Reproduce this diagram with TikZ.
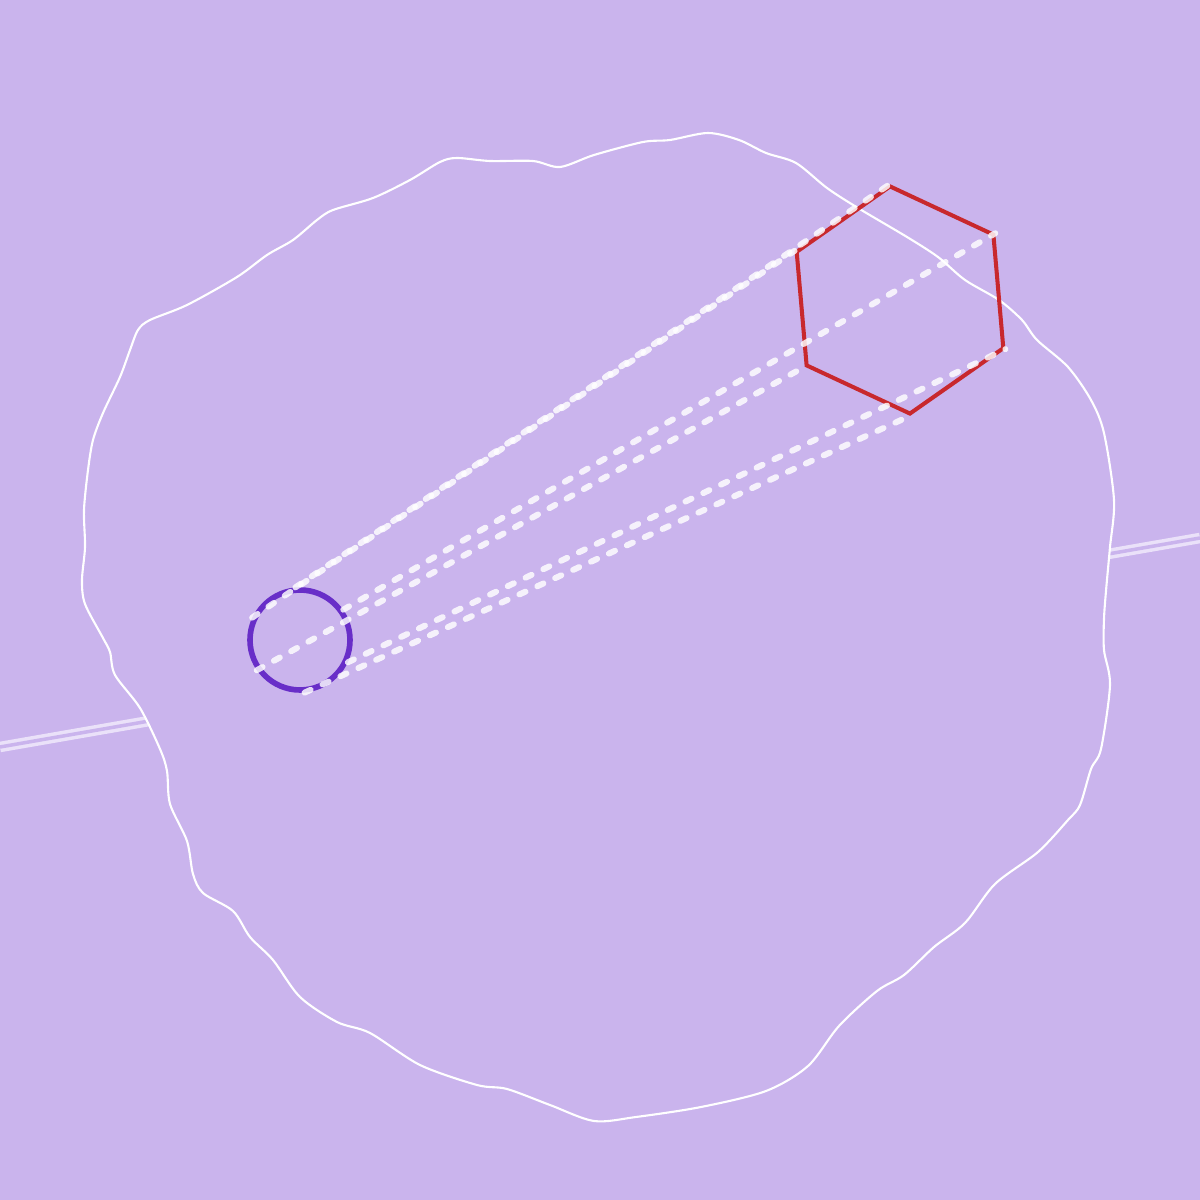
\documentclass[tikz,border=0pt]{standalone}
\usepackage{tikz}
\usetikzlibrary{shapes.geometric}
\definecolor{field}{RGB}{202,180,237}
\definecolor{ringpurple}{RGB}{104,46,200}
\definecolor{hexred}{RGB}{200,40,45}
\definecolor{roadline}{RGB}{234,225,249}

\begin{document}
\begin{tikzpicture}[
  ring/.style={circle,draw=ringpurple,line width=1.6pt,minimum size=1cm,inner sep=0pt},
  hexa/.style={regular polygon,regular polygon sides=6,shape border rotate=35,draw=hexred,line width=1.15pt,minimum size=2.28cm,inner sep=0pt},
  ray/.style={draw=white,opacity=0.82,line width=1.7pt,line cap=round,dash pattern=on 1.9pt off 3.7pt},
  road/.style={draw=roadline,line width=1pt,double=field,double distance=1pt}
]
\useasboundingbox (0,0) rectangle (12,12);
\fill[field] (0,0) rectangle (12,12);

\coordinate (roadW) at (0,4.53);
\coordinate (roadE) at (12,6.62);
\draw[road] (roadW) -- (roadE);

% wavy outline
\draw[white,line width=0.6pt,fill=field] plot[smooth cycle,tension=0.5] coordinates {
  (7.08,10.67) (7.39,10.60) (7.66,10.47) (7.96,10.37) (8.27,10.12) (8.58,9.92)
  (9.07,9.63) (9.38,9.43) (9.65,9.20) (9.99,9.00) (10.22,8.80) (10.37,8.60)
  (10.68,8.33) (10.91,8.00) (11.04,7.67) (11.14,7.00) (11.10,6.53) (11.06,6.09)
  (11.04,5.81) (11.04,5.50) (11.10,5.15) (11.01,4.51) (10.91,4.31) (10.80,3.95)
  (10.68,3.80) (10.38,3.48) (9.95,3.16) (9.65,2.77) (9.34,2.53) (9.04,2.25)
  (8.77,2.09) (8.39,1.74) (8.08,1.34) (7.66,1.09) (7.01,0.93) (6.36,0.83)
  (5.94,0.79) (5.50,0.95) (5.07,1.11) (4.77,1.15) (4.20,1.35) (3.70,1.67)
  (3.37,1.78) (3.00,2.03) (2.73,2.40) (2.50,2.63) (2.33,2.89) (2.03,3.07)
  (1.93,3.26) (1.87,3.59) (1.70,3.96) (1.67,4.29) (1.60,4.51) (1.40,4.92)
  (1.15,5.25) (1.10,5.48) (1.03,5.62) (0.85,5.96) (0.82,6.20) (0.85,6.53)
  (0.84,6.90) (0.88,7.30) (0.93,7.60) (1.03,7.87) (1.20,8.23) (1.30,8.50)
  (1.38,8.70) (1.50,8.80) (1.87,8.95) (2.37,9.23) (2.67,9.45) (2.93,9.60)
  (3.17,9.80) (3.33,9.90) (3.73,10.02) (4.10,10.20) (4.40,10.38) (4.57,10.42)
  (4.90,10.39) (5.33,10.39) (5.60,10.33) (5.94,10.45) (6.43,10.58) (6.70,10.60)
};

\node[ring] (dot) at (3,5.6) {};
\node[hexa] (hex) at (9,9) {};

\draw[ray] (dot.95) -- (hex.95);
\draw[ray] (dot.155) -- (hex.155);
\draw[ray] (dot.35) -- (hex.35);
\draw[ray] (dot.215) -- (hex.215);
\draw[ray] (dot.-25) -- (hex.-25);
\draw[ray] (dot.-85) -- (hex.-85);
\end{tikzpicture}
\end{document}
